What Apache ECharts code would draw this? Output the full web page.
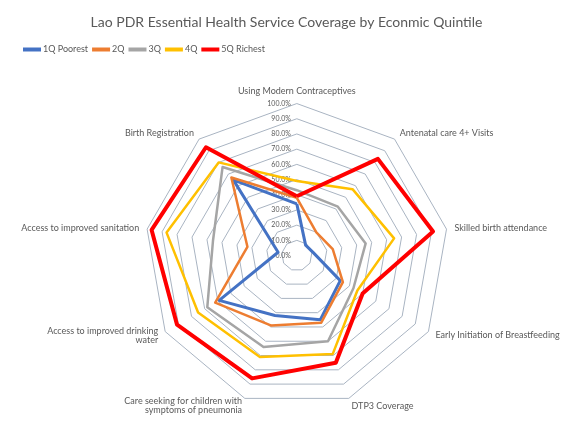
<!DOCTYPE html>
<html>
<head>
<meta charset="utf-8">
<script src="https://cdn.jsdelivr.net/npm/echarts@6/dist/echarts.min.js"></script>
<style>
  html, body { margin: 0; padding: 0; background: #fff; }
  #chart { width: 573px; height: 421px; }
</style>
</head>
<body>
<div id="chart"></div>
<script>
// indicators, clockwise from the top (as in the source chart)
var indicators = [
  'Using Modern Contraceptives',
  'Antenatal care 4+ Visits',
  'Skilled birth attendance',
  'Early Initiation of Breastfeeding',
  'DTP3 Coverage',
  'Care seeking for children with\nsymptoms of pneumonia',
  'Access to improved drinking\nwater',
  'Access to improved sanitation',
  'Birth Registration'
];
var seriesNames = ['1Q Poorest', '2Q', '3Q', '4Q', '5Q Richest'];
var q1 = [34, 9, 11, 33, 45, 42, 59, 12.5, 65];
var q2 = [38, 20, 24, 35, 47, 49, 62, 33, 67];
var q3 = [43, 42, 46, 43, 60, 64, 68, 56, 76];
var q4 = [49, 57, 65, 46, 69, 71, 75, 87, 80];
var q5 = [39, 83, 91, 50, 75, 86, 91, 97, 93];
var colors = ['#4472C4', '#ED7D31', '#A5A5A5', '#FFC000', '#FF0000'];
var widths = [3, 2.5, 2.5, 2.5, 4];

// echarts lays indicators out counter-clockwise, so reorder
var order = [0, 8, 7, 6, 5, 4, 3, 2, 1];
function reorder(arr) { return order.map(function (i) { return arr[i]; }); }

var font = 'Lato, "Open Sans", sans-serif';
var indicatorOpts = reorder(indicators).map(function (name, i) {
  var o = { name: name, min: 0, max: 100 };
  if (i === 0) {
    o.axisLabel = {
      show: true,
      fontSize: 7,
      color: '#595959',
      fontFamily: font,
      margin: 6,
      formatter: function (v) { return v.toFixed(1) + '%'; }
    };
  }
  return o;
});

var chart = echarts.init(document.getElementById('chart'));
chart.setOption({
  animation: false,
  color: colors,
  title: {
    text: 'Lao PDR Essential Health Service Coverage by Econmic Quintile',
    left: 'center',
    top: 10,
    textStyle: { fontSize: 14, fontWeight: 'normal', color: '#595959', fontFamily: font }
  },
  legend: {
    left: 18,
    top: 40,
    icon: 'rect',
    itemWidth: 18,
    itemHeight: 4,
    itemGap: 4,
    textStyle: { fontSize: 9, color: '#595959', fontFamily: font, padding: [0, 0, 0, -3] },
    data: seriesNames
  },
  radar: {
    center: ['51.8%', '60.7%'],
    radius: 152,
    startAngle: 90,
    shape: 'polygon',
    splitNumber: 10,
    indicator: indicatorOpts,
    axisName: { color: '#595959', fontSize: 9, fontFamily: font },
    nameGap: 8,
    axisLine: { show: false },
    axisTick: { show: false },
    axisLabel: { show: false },
    splitLine: { lineStyle: { color: '#a9b4c2', width: 1 } },
    splitArea: { show: false }
  },
  series: [{
    type: 'radar',
    symbol: 'none',
    data: [q1, q2, q3, q4, q5].map(function (vals, i) {
      return {
        name: seriesNames[i],
        value: reorder(vals),
        lineStyle: { color: colors[i], width: widths[i] },
        itemStyle: { color: colors[i] }
      };
    })
  }]
});
</script>
</body>
</html>
